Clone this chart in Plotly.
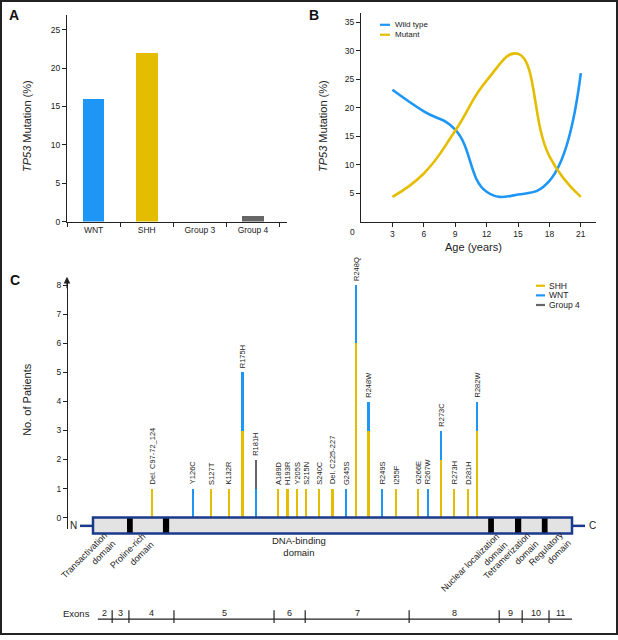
import plotly.graph_objects as go

W, H = 618, 640
FONT = "Liberation Sans, Arial, Helvetica, sans-serif"
BLUE = "#1E96F5"
GOLD = "#E5BD00"
GRAY = "#666666"
NAVY = "#1B3A8C"
INK = "#222222"

# ---------------- Panel A data ----------------
subgroups = ["WNT", "SHH", "Group 3", "Group 4"]
subgroup_pct = [16, 22, 0, 0.8]
subgroup_colors = [BLUE, GOLD, GRAY, GRAY]

# ---------------- Panel B data ----------------
ages = [3, 6, 9, 12, 15, 18, 21]
wild_type = [23.2, 19.4, 16.2, 5.3, 4.8, 7.2, 26.1]
mutant = [4.4, 8.5, 16.0, 24.8, 29.5, 11.5, 4.4]
age_ticks = [3, 6, 9, 12, 15, 18, 21]
pct_ticks_b = [5, 10, 15, 20, 25, 30, 35]

# ---------------- Panel C data ----------------
mutations = ["Del. C97-72_124", "Y126C", "S127T", "K132R", "R175H", "R181H",
             "A189D", "H193R", "Y205S", "S215N", "S240C", "Del. C225-227",
             "G245S", "R248Q", "R248W", "R249S", "I255F", "G266E", "R267W",
             "R273C", "R273H", "D281H", "R282W"]
# schematic position along protein (0 = N terminus, 100 = C terminus)
mut_pos = [12.4, 20.8, 24.6, 28.4, 31.2, 34.0, 38.7, 40.6, 42.5, 44.4, 47.2,
           50.0, 52.8, 54.9, 57.5, 60.4, 63.3, 67.9, 69.9, 72.7, 75.4, 78.2, 80.2]
shh_n = [1, 0, 1, 1, 3, 0, 1, 1, 1, 1, 1, 1, 0, 6, 3, 0, 1, 1, 0, 2, 1, 1, 3]
wnt_n = [0, 1, 0, 0, 2, 1, 0, 0, 0, 0, 0, 0, 1, 2, 1, 1, 0, 0, 1, 1, 0, 0, 1]
g4_n = [0, 0, 0, 0, 0, 1, 0, 0, 0, 0, 0, 0, 0, 0, 0, 0, 0, 0, 0, 0, 0, 0, 0]

domain_blocks = [(7.1, 8.3), (14.6, 15.9), (82.5, 83.7), (88.1, 89.4), (93.7, 94.9)]
exon_names = ["2", "3", "4", "5", "6", "7", "8", "9", "10", "11"]
exon_bounds = [1.0, 4.0, 7.5, 16.9, 37.8, 44.3, 66.0, 84.8, 89.6, 95.2, 100.0]


def P(x):
    return x / W


def Q(y):
    return 1 - y / H


fig = go.Figure()

# Panel A bars
fig.add_trace(go.Bar(x=subgroups, y=subgroup_pct, marker=dict(color=subgroup_colors, line=dict(width=0)),
                     width=0.41, xaxis="x", yaxis="y", showlegend=False))

# Panel B curves
fig.add_trace(go.Scatter(x=ages, y=wild_type, mode="lines", line=dict(color=BLUE, width=2.6, shape="spline", smoothing=1.3),
                         xaxis="x2", yaxis="y2", showlegend=False, name="Wild type"))
fig.add_trace(go.Scatter(x=ages, y=mutant, mode="lines", line=dict(color=GOLD, width=2.6, shape="spline", smoothing=1.3),
                         xaxis="x2", yaxis="y2", showlegend=False, name="Mutant"))

# Panel C stems (stacked)
for vals, col, nm in [(shh_n, GOLD, "SHH"), (wnt_n, BLUE, "WNT"), (g4_n, GRAY, "Group 4")]:
    fig.add_trace(go.Bar(x=mut_pos, y=vals, width=0.45, marker=dict(color=col, line=dict(width=0)),
                         xaxis="x3", yaxis="y3", showlegend=False, name=nm))

U = 4.79  # px per protein unit
x3_range = [-93 / U, (W - 93) / U]
y0c, ppu = 521.7, 29.3

axis_common = dict(showline=True, linecolor=INK, linewidth=1.2, ticks="outside", ticklen=4,
                   tickcolor=INK, tickwidth=1, showgrid=False, zeroline=False,
                   tickfont=dict(family=FONT, size=8.5, color=INK))

fig.update_layout(
    width=W, height=H, margin=dict(l=0, r=0, t=0, b=0),
    paper_bgcolor="white", plot_bgcolor="rgba(0,0,0,0)",
    barmode="stack", bargap=0,
    font=dict(family=FONT, color=INK),
    xaxis=dict(domain=[P(67), P(287)], anchor="y", type="category", range=[-0.5, 3.64],
               tickson="boundaries", **axis_common),
    yaxis=dict(domain=[Q(223.3), Q(15)], anchor="x", range=[0, 26.94], tickvals=[0, 5, 10, 15, 20, 25], **axis_common),
    xaxis2=dict(domain=[P(361), P(596)], anchor="y2", range=[0, 22.45], tickvals=age_ticks, **axis_common),
    yaxis2=dict(domain=[Q(223.7), Q(13)], anchor="x2", range=[0, 36.67], tickvals=pct_ticks_b, **axis_common),
    xaxis3=dict(domain=[0, 1], anchor="y3", range=x3_range, visible=False),
    yaxis3=dict(domain=[Q(533), Q(281)], anchor="free", position=P(67),
                range=[(y0c - 533) / ppu, (y0c - 281) / ppu], tickvals=list(range(0, 9)), **axis_common),
)

shapes = []
ann = []

# outer frame
shapes.append(dict(type="rect", xref="paper", yref="paper", x0=P(1), x1=P(617), y0=Q(639), y1=Q(1),
                   line=dict(color=INK, width=2), fillcolor="rgba(0,0,0,0)"))

# panel letters
for t, x, y in [("A", 14, 15), ("B", 314, 15), ("C", 15, 282)]:
    ann.append(dict(text="<b>%s</b>" % t, x=P(x), y=Q(y), xref="paper", yref="paper", showarrow=False,
                    font=dict(size=14, family=FONT, color="#111"), xanchor="center", yanchor="middle"))

# axis titles
for t, x, y, ang in [("<i>TP53</i> Mutation (%)", 27, 127, -90),
                     ("<i>TP53</i> Mutation (%)", 323, 127, -90),
                     ("Age (years)", 473, 249, 0),
                     ("No. of Patients", 27, 403, -90)]:
    ann.append(dict(text=t, x=P(x), y=Q(y), xref="paper", yref="paper", showarrow=False, textangle=ang,
                    font=dict(size=11, family=FONT, color=INK), xanchor="center", yanchor="middle"))

# origin "0" in panel B
ann.append(dict(text="0", x=0, y=0, xref="x2", yref="y2", showarrow=False, xshift=-9, yshift=-10,
                font=dict(size=8.5, family=FONT, color=INK), xanchor="center", yanchor="middle"))

# panel B legend
for i, (nm, col) in enumerate([("Wild type", BLUE), ("Mutant", GOLD)]):
    yy = 25 + i * 10
    shapes.append(dict(type="line", xref="paper", yref="paper", x0=P(380), x1=P(390), y0=Q(yy), y1=Q(yy),
                       line=dict(color=col, width=2.2)))
    ann.append(dict(text=nm, x=P(393), y=Q(yy), xref="paper", yref="paper", showarrow=False,
                    font=dict(size=8, family=FONT, color=INK), xanchor="left", yanchor="middle"))

# panel C legend
for i, (nm, col) in enumerate([("SHH", GOLD), ("WNT", BLUE), ("Group 4", GRAY)]):
    yy = 288 + i * 9.7
    shapes.append(dict(type="line", xref="paper", yref="paper", x0=P(536), x1=P(545), y0=Q(yy), y1=Q(yy),
                       line=dict(color=col, width=2.2)))
    ann.append(dict(text=nm, x=P(547), y=Q(yy), xref="paper", yref="paper", showarrow=False,
                    font=dict(size=8.5, family=FONT, color=INK), xanchor="left", yanchor="middle"))

# y axis arrow for panel C
ann.append(dict(x=P(67), y=Q(279), ax=0, ay=13, xref="paper", yref="paper",
                showarrow=True, arrowhead=2, arrowsize=1.1, arrowwidth=1.2, arrowcolor=INK, text=""))

# mutation labels
for name, xp, a, b, c in zip(mutations, mut_pos, shh_n, wnt_n, g4_n):
    ann.append(dict(text=name, x=xp, y=a + b + c, xref="x3", yref="y3", showarrow=False, textangle=-90,
                    xanchor="center", yanchor="bottom", yshift=2,
                    font=dict(size=7.5, family=FONT, color=INK)))

# protein bar
bar_top, bar_bot = Q(521.7), Q(537.7)
shapes.append(dict(type="line", xref="x3", yref="paper", x0=-13 / U, x1=0, y0=Q(530), y1=Q(530),
                   line=dict(color=NAVY, width=2.5)))
shapes.append(dict(type="line", xref="x3", yref="paper", x0=100, x1=100 + 13 / U, y0=Q(530), y1=Q(530),
                   line=dict(color=NAVY, width=2.5)))
shapes.append(dict(type="rect", xref="x3", yref="paper", x0=0, x1=100, y0=bar_bot, y1=bar_top,
                   fillcolor="#E3E3E3", line=dict(width=0), layer="below"))
for a, b in domain_blocks:
    shapes.append(dict(type="rect", xref="x3", yref="paper", x0=a, x1=b, y0=bar_bot, y1=bar_top,
                       fillcolor="#000000", line=dict(width=0)))
shapes.append(dict(type="rect", xref="x3", yref="paper", x0=0, x1=100, y0=bar_bot, y1=bar_top,
                   fillcolor="rgba(0,0,0,0)", line=dict(color=NAVY, width=2.5)))
ann.append(dict(text="N", x=P(73), y=Q(530), xref="paper", yref="paper", showarrow=False,
                font=dict(size=10, family=FONT, color=INK), xanchor="center", yanchor="middle"))
ann.append(dict(text="C", x=P(592), y=Q(530), xref="paper", yref="paper", showarrow=False,
                font=dict(size=10, family=FONT, color=INK), xanchor="center", yanchor="middle"))

# domain labels
for t, x, y, ang in [("Transactivation<br>domain", 88, 564, -45),
                     ("Proline-rich<br>domain", 132, 559, -45),
                     ("Nuclear localization<br>domain", 474, 571, -45),
                     ("Tetramerization<br>domain", 511, 564, -45),
                     ("Regulatory<br>domain", 550, 557, -45)]:
    ann.append(dict(text=t, x=P(x), y=Q(y), xref="paper", yref="paper", showarrow=False, textangle=ang,
                    align="right", font=dict(size=9, family=FONT, color=INK), xanchor="center", yanchor="middle"))
ann.append(dict(text="DNA-binding<br>domain", x=P(299), y=Q(551), xref="paper", yref="paper", showarrow=False,
                align="center", font=dict(size=9.5, family=FONT, color=INK), xanchor="center", yanchor="middle"))

# exons
ann.append(dict(text="Exons", x=P(76), y=Q(618), xref="paper", yref="paper", showarrow=False,
                font=dict(size=9.5, family=FONT, color=INK), xanchor="center", yanchor="middle"))
shapes.append(dict(type="line", xref="x3", yref="paper", x0=exon_bounds[0], x1=exon_bounds[-1], y0=Q(624), y1=Q(624),
                   line=dict(color=INK, width=1.2)))
for bnd in exon_bounds[1:-1]:
    shapes.append(dict(type="line", xref="x3", yref="paper", x0=bnd, x1=bnd, y0=Q(615), y1=Q(628),
                       line=dict(color=INK, width=1.2)))
for nm, a, b in zip(exon_names, exon_bounds[:-1], exon_bounds[1:]):
    ann.append(dict(text=nm, x=(a + b) / 2, y=Q(617.5), xref="x3", yref="paper", showarrow=False,
                    font=dict(size=9, family=FONT, color=INK), xanchor="center", yanchor="middle"))

fig.update_layout(shapes=shapes, annotations=ann)
post = ("var s=document.createElement('style');"
        "s.innerHTML='html,body{margin:0!important;padding:0!important;overflow:hidden!important;"
        "width:618px!important;height:640px!important;}"
        ".plotly-graph-div{overflow:hidden;display:block;}.svg-container{display:block!important;}';"
        "document.head.appendChild(s);")
fig.write_html("out.html", config={"displayModeBar": False}, post_script=post)
